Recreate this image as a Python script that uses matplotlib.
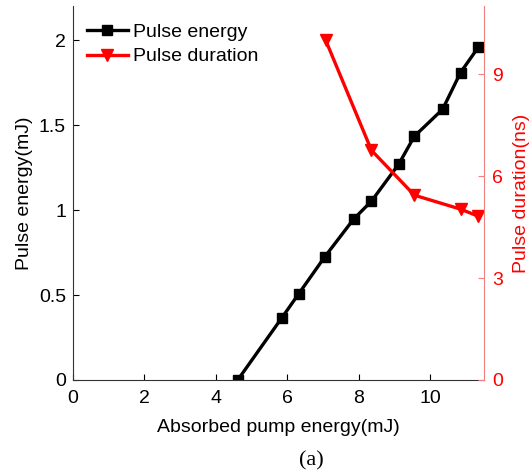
import matplotlib.pyplot as plt
import numpy as np

plt.rcParams['font.family'] = ['Liberation Sans', 'DejaVu Sans']

# pulse energy vs absorbed pump energy
pump_e = [4.61, 5.84, 6.31, 7.04, 7.85, 8.35, 9.11, 9.55, 10.34, 10.84, 11.34]
pulse_e = [0.0, 0.365, 0.506, 0.724, 0.947, 1.053, 1.27, 1.435, 1.594, 1.81, 1.96]

# pulse duration vs absorbed pump energy
pump_d = [7.07, 8.35, 9.55, 10.84, 11.34]
pulse_d = [10.0, 6.76, 5.44, 5.03, 4.82]

fig = plt.figure(figsize=(5.32, 4.76), dpi=100)
ax = fig.add_axes([0.137, 0.2017, 0.773, 0.785])
ax2 = ax.twinx()

l1, = ax.plot(pump_e, pulse_e, color='black', lw=2.4, marker='s', ms=6.5,
              mfc='black', mec='black', label='Pulse energy')
l2, = ax2.plot(pump_d, pulse_d, color='red', lw=2.4, marker='v', ms=8.5,
               mfc='red', mec='red', label='Pulse duration')

ax.set_xlim(0, 11.5)
ax.set_ylim(0, 2.2)
ax2.set_ylim(0, 11)
ax.set_xticks([0, 2, 4, 6, 8, 10])
ax.set_yticks([0, 0.5, 1, 1.5, 2])
ax.set_yticklabels(['0', '0.5', '1', '1.5', '2'])
ax2.set_yticks([0, 3, 6, 9])

for a in (ax, ax2):
    a.spines['top'].set_visible(False)
ax.spines['right'].set_visible(False)
ax2.spines['left'].set_visible(False)
ax2.spines['bottom'].set_visible(False)
ax.spines['left'].set_color('#333333')
ax.spines['bottom'].set_color('#333333')
ax2.spines['right'].set_color('#f08080')

ax.tick_params(direction='in', labelsize=14, length=4, colors='black')
ax.tick_params(axis='x', pad=7)
ax.tick_params(axis='y', pad=5)
ax2.tick_params(direction='in', labelsize=14, length=4, colors='red', pad=6)
ax2.tick_params(axis='y', color='#f08080')

ax.set_xlabel('Absorbed pump energy(mJ)', fontsize=14, labelpad=9)
ax.set_ylabel('Pulse energy(mJ)', fontsize=14, labelpad=4)
ax2.set_ylabel('Pulse duration(ns)', fontsize=14, color='red', labelpad=7)

ax.legend(handles=[l1, l2], loc='upper left', frameon=False, fontsize=14,
          handlelength=2.1, handletextpad=0.3, borderaxespad=0.0,
          labelspacing=0.35, bbox_to_anchor=(0.015, 0.975))

fig.text(0.585, 0.012, '(a)', fontsize=16, family='Liberation Serif',
         ha='center', va='bottom')

fig.savefig('out.png', dpi=100)
